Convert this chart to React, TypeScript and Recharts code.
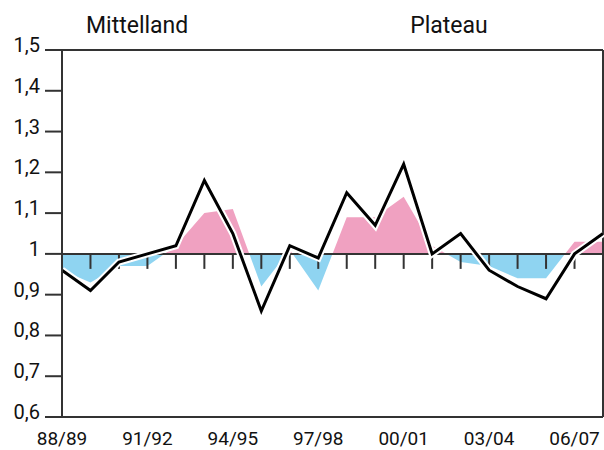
import React from "react";
import {
  ComposedChart,
  Area,
  Line,
  XAxis,
  YAxis,
  ReferenceLine,
} from "recharts";

const categories = [
  "88/89", "89/90", "90/91", "91/92", "92/93", "93/94", "94/95", "95/96",
  "96/97", "97/98", "98/99", "99/00", "00/01", "01/02", "02/03", "03/04",
  "04/05", "05/06", "06/07", "07/08",
];

// black line
const lineValues = [
  0.96, 0.91, 0.98, 1.0, 1.02, 1.18, 1.05, 0.86, 1.02, 0.99,
  1.15, 1.07, 1.22, 1.0, 1.05, 0.96, 0.92, 0.89, 1.0, 1.05,
];

// filled area around 1 (pink above, blue below)
const areaValues = [
  0.96, 0.93, 0.97, 0.97, 1.02, 1.1, 1.11, 0.92, 1.01, 0.91,
  1.09, 1.09, 1.14, 1.02, 0.98, 0.97, 0.94, 0.94, 1.03, 1.03,
];

const yTicks = [0.6, 0.7, 0.8, 0.9, 1, 1.1, 1.2, 1.3, 1.4, 1.5];
const titleLeft = "Mittelland";
const titleRight = "Plateau";

const data = categories.map((cat, i) => ({
  cat,
  line: lineValues[i],
  area: areaValues[i],
}));

const W = 604;
const H = 450;
const TOP = 50;
const X_AXIS_H = 33;
const PLOT_BOTTOM = H - X_AXIS_H;
const Y_MIN = 0.6;
const Y_MAX = 1.5;
const SPLIT = (Y_MAX - 1) / (Y_MAX - Y_MIN);

const AXIS = "#333333";
const PINK = "#f0a1c1";
const BLUE = "#8fd4f1";
const FONT = "Roboto, sans-serif";

const fmt = (v: number) => (v === 1 ? "1" : v.toFixed(1).replace(".", ","));

const YTick = (props: any) => {
  const { x, y, payload } = props;
  return (
    <text x={x} y={y + 2} textAnchor="end" fontSize={20} fontFamily={FONT} fill="#111">
      {fmt(payload.value)}
    </text>
  );
};

const XTick = (props: any) => {
  const { x, y, payload } = props;
  return (
    <text x={x} y={y + 20} textAnchor="middle" fontSize={19} fontFamily={FONT} fill="#111">
      {payload.value}
    </text>
  );
};

const MidTick = (props: any) => (
  <line x1={props.x1} y1={props.y1} x2={props.x1} y2={props.y1 + 15} stroke={AXIS} strokeWidth={2} />
);

export default function App() {
  return (
    <div style={{ position: "absolute", left: 0, top: 0, width: W, height: H, background: "#fff" }}>
      <ComposedChart
        width={W}
        height={H}
        data={data}
        margin={{ top: TOP, right: 1, bottom: 0, left: 0 }}
      >
        <defs>
          <linearGradient id="split" gradientUnits="userSpaceOnUse" x1="0" y1={TOP} x2="0" y2={PLOT_BOTTOM}>
            <stop offset={0} stopColor={PINK} />
            <stop offset={SPLIT} stopColor={PINK} />
            <stop offset={SPLIT} stopColor={BLUE} />
            <stop offset={1} stopColor={BLUE} />
          </linearGradient>
        </defs>
        <XAxis
          dataKey="cat"
          height={X_AXIS_H}
          interval={2}
          tickLine={false}
          axisLine={{ stroke: AXIS, strokeWidth: 2 }}
          tick={<XTick />}
        />
        <YAxis
          type="number"
          domain={[Y_MIN, Y_MAX]}
          ticks={yTicks}
          interval={0}
          width={62}
          tickSize={17}
          tickMargin={5}
          allowDataOverflow
          axisLine={{ stroke: AXIS, strokeWidth: 2 }}
          tickLine={{ stroke: AXIS, strokeWidth: 2 }}
          tick={<YTick />}
        />
        <Area
          type="linear"
          dataKey="area"
          baseValue={1}
          stroke="none"
          fill="url(#split)"
          fillOpacity={1}
          dot={false}
          activeDot={false}
          isAnimationActive={false}
        />
        <ReferenceLine y={Y_MAX} stroke={AXIS} strokeWidth={2} />
        <ReferenceLine x={categories[categories.length - 1]} stroke={AXIS} strokeWidth={2} />
        <ReferenceLine y={1} stroke={AXIS} strokeWidth={2} />
        {categories.slice(1).map((c) => (
          <ReferenceLine
            key={c}
            segment={[{ x: c, y: 1 }, { x: c, y: 1 }]}
            shape={<MidTick />}
          />
        ))}
        <Line
          type="linear"
          dataKey="line"
          stroke="#ffffff"
          strokeWidth={7}
          strokeLinejoin="miter"
          dot={false}
          activeDot={false}
          isAnimationActive={false}
        />
        <Line
          type="linear"
          dataKey="line"
          stroke="#000000"
          strokeWidth={3}
          strokeLinejoin="miter"
          dot={false}
          activeDot={false}
          isAnimationActive={false}
        />
      </ComposedChart>
      <svg width={W} height={TOP} style={{ position: "absolute", left: 0, top: 0 }}>
        <text x={86} y={33} fontSize={23} fontFamily={FONT} fill="#111">
          {titleLeft}
        </text>
        <text x={449} y={33} textAnchor="middle" fontSize={23} fontFamily={FONT} fill="#111">
          {titleRight}
        </text>
      </svg>
    </div>
  );
}
